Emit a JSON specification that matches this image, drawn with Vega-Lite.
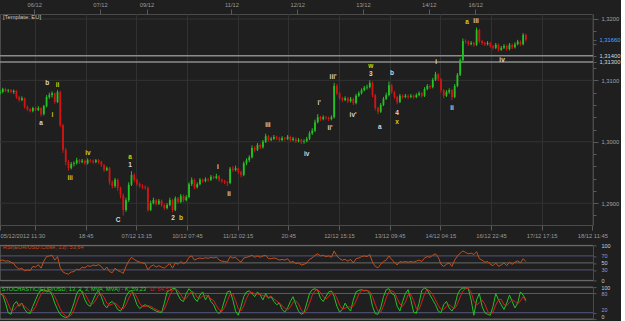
{
"$schema": "https://vega.github.io/schema/vega-lite/v6.json",
"background": "#1f1f1f",
"padding": {"top": 0, "left": -3, "right": 0, "bottom": 0},
"bounds": "flush",
"spacing": 6.7,
"config": {
  "view": {"stroke": "#4a4a4a", "strokeWidth": 1},
  "axis": {"labelFont": "Liberation Sans", "labelFontSize": 5.8, "labelColor": "#9a9a9a", "tickColor": "#5a5a5a", "domainColor": "#4a4a4a"},
  "text": {"font": "Liberation Sans"}
},
"datasets": {
"bars": [
{"t":0,"o":1.3079,"h":1.3084,"l":1.3077,"c":1.3081,"r":57,"k":80,"d":82},
{"t":1,"o":1.3081,"h":1.3088,"l":1.3079,"c":1.3086,"r":58,"k":75,"d":78},
{"t":2,"o":1.3086,"h":1.3088,"l":1.3081,"c":1.3083,"r":55,"k":50,"d":68},
{"t":3,"o":1.3083,"h":1.3086,"l":1.3080,"c":1.3084,"r":56,"k":20,"d":48},
{"t":4,"o":1.3084,"h":1.3086,"l":1.3079,"c":1.3081,"r":52,"k":15,"d":28},
{"t":5,"o":1.3081,"h":1.3085,"l":1.3078,"c":1.3083,"r":48,"k":45,"d":27},
{"t":6,"o":1.3083,"h":1.3084,"l":1.3070,"c":1.3073,"r":38,"k":55,"d":38},
{"t":7,"o":1.3073,"h":1.3075,"l":1.3065,"c":1.3068,"r":32,"k":40,"d":47},
{"t":8,"o":1.3068,"h":1.3074,"l":1.3066,"c":1.3071,"r":35,"k":50,"d":48},
{"t":9,"o":1.3071,"h":1.3072,"l":1.3054,"c":1.3057,"r":27,"k":30,"d":40},
{"t":10,"o":1.3057,"h":1.3059,"l":1.3050,"c":1.3053,"r":30,"k":20,"d":33},
{"t":11,"o":1.3053,"h":1.3055,"l":1.3048,"c":1.3050,"r":28,"k":18,"d":23},
{"t":12,"o":1.3050,"h":1.3057,"l":1.3048,"c":1.3055,"r":40,"k":40,"d":26},
{"t":13,"o":1.3055,"h":1.3057,"l":1.3050,"c":1.3052,"r":38,"k":60,"d":39},
{"t":14,"o":1.3052,"h":1.3058,"l":1.3050,"c":1.3055,"r":45,"k":80,"d":60},
{"t":15,"o":1.3055,"h":1.3056,"l":1.3041,"c":1.3045,"r":35,"k":90,"d":77},
{"t":16,"o":1.3045,"h":1.3060,"l":1.3043,"c":1.3058,"r":55,"k":92,"d":87},
{"t":17,"o":1.3058,"h":1.3076,"l":1.3056,"c":1.3073,"r":68,"k":85,"d":89},
{"t":18,"o":1.3073,"h":1.3080,"l":1.3070,"c":1.3076,"r":70,"k":88,"d":88},
{"t":19,"o":1.3076,"h":1.3082,"l":1.3072,"c":1.3079,"r":72,"k":75,"d":83},
{"t":20,"o":1.3079,"h":1.3080,"l":1.3062,"c":1.3065,"r":58,"k":50,"d":71},
{"t":21,"o":1.3065,"h":1.3084,"l":1.3063,"c":1.3081,"r":68,"k":30,"d":52},
{"t":22,"o":1.3081,"h":1.3083,"l":1.3024,"c":1.3027,"r":36,"k":15,"d":32},
{"t":23,"o":1.3027,"h":1.3029,"l":1.2982,"c":1.2987,"r":24,"k":8,"d":18},
{"t":24,"o":1.2987,"h":1.2990,"l":1.2962,"c":1.2967,"r":20,"k":5,"d":9},
{"t":25,"o":1.2967,"h":1.2970,"l":1.2953,"c":1.2957,"r":18,"k":8,"d":7},
{"t":26,"o":1.2957,"h":1.2967,"l":1.2955,"c":1.2964,"r":24,"k":25,"d":13},
{"t":27,"o":1.2964,"h":1.2968,"l":1.2960,"c":1.2965,"r":25,"k":50,"d":28},
{"t":28,"o":1.2965,"h":1.2974,"l":1.2963,"c":1.2970,"r":32,"k":80,"d":52},
{"t":29,"o":1.2970,"h":1.2972,"l":1.2964,"c":1.2967,"r":30,"k":92,"d":74},
{"t":30,"o":1.2967,"h":1.2972,"l":1.2965,"c":1.2969,"r":38,"k":85,"d":86},
{"t":31,"o":1.2969,"h":1.2971,"l":1.2962,"c":1.2965,"r":36,"k":60,"d":79},
{"t":32,"o":1.2965,"h":1.2973,"l":1.2963,"c":1.2970,"r":42,"k":45,"d":63},
{"t":33,"o":1.2970,"h":1.2972,"l":1.2966,"c":1.2969,"r":40,"k":40,"d":48},
{"t":34,"o":1.2969,"h":1.2971,"l":1.2964,"c":1.2967,"r":44,"k":60,"d":48},
{"t":35,"o":1.2967,"h":1.2972,"l":1.2965,"c":1.2970,"r":42,"k":80,"d":60},
{"t":36,"o":1.2970,"h":1.2972,"l":1.2964,"c":1.2967,"r":45,"k":88,"d":76},
{"t":37,"o":1.2967,"h":1.2969,"l":1.2959,"c":1.2962,"r":40,"k":70,"d":79},
{"t":38,"o":1.2962,"h":1.2964,"l":1.2951,"c":1.2954,"r":30,"k":45,"d":68},
{"t":39,"o":1.2954,"h":1.2960,"l":1.2952,"c":1.2957,"r":38,"k":35,"d":50},
{"t":40,"o":1.2957,"h":1.2959,"l":1.2930,"c":1.2934,"r":25,"k":50,"d":43},
{"t":41,"o":1.2934,"h":1.2937,"l":1.2924,"c":1.2928,"r":22,"k":55,"d":47},
{"t":42,"o":1.2928,"h":1.2941,"l":1.2925,"c":1.2938,"r":35,"k":45,"d":50},
{"t":43,"o":1.2938,"h":1.2940,"l":1.2920,"c":1.2925,"r":28,"k":30,"d":43},
{"t":44,"o":1.2925,"h":1.2927,"l":1.2908,"c":1.2913,"r":25,"k":25,"d":33},
{"t":45,"o":1.2913,"h":1.2916,"l":1.2880,"c":1.2889,"r":20,"k":40,"d":32},
{"t":46,"o":1.2889,"h":1.2909,"l":1.2886,"c":1.2905,"r":40,"k":70,"d":45},
{"t":47,"o":1.2905,"h":1.2934,"l":1.2902,"c":1.2930,"r":55,"k":85,"d":65},
{"t":48,"o":1.2930,"h":1.2952,"l":1.2928,"c":1.2946,"r":66,"k":90,"d":82},
{"t":49,"o":1.2946,"h":1.2949,"l":1.2934,"c":1.2938,"r":60,"k":70,"d":82},
{"t":50,"o":1.2938,"h":1.2940,"l":1.2928,"c":1.2931,"r":55,"k":45,"d":68},
{"t":51,"o":1.2931,"h":1.2934,"l":1.2925,"c":1.2928,"r":52,"k":33,"d":49},
{"t":52,"o":1.2928,"h":1.2931,"l":1.2923,"c":1.2926,"r":50,"k":40,"d":39},
{"t":53,"o":1.2926,"h":1.2929,"l":1.2922,"c":1.2925,"r":48,"k":45,"d":39},
{"t":54,"o":1.2925,"h":1.2927,"l":1.2886,"c":1.2889,"r":30,"k":40,"d":42},
{"t":55,"o":1.2889,"h":1.2904,"l":1.2887,"c":1.2900,"r":40,"k":35,"d":40},
{"t":56,"o":1.2900,"h":1.2909,"l":1.2898,"c":1.2905,"r":44,"k":30,"d":35},
{"t":57,"o":1.2905,"h":1.2907,"l":1.2896,"c":1.2899,"r":38,"k":25,"d":30},
{"t":58,"o":1.2899,"h":1.2907,"l":1.2897,"c":1.2904,"r":42,"k":22,"d":26},
{"t":59,"o":1.2904,"h":1.2906,"l":1.2894,"c":1.2897,"r":38,"k":20,"d":22},
{"t":60,"o":1.2897,"h":1.2899,"l":1.2889,"c":1.2892,"r":35,"k":50,"d":31},
{"t":61,"o":1.2892,"h":1.2900,"l":1.2890,"c":1.2897,"r":42,"k":85,"d":52},
{"t":62,"o":1.2897,"h":1.2909,"l":1.2895,"c":1.2905,"r":48,"k":90,"d":75},
{"t":63,"o":1.2905,"h":1.2907,"l":1.2885,"c":1.2889,"r":35,"k":95,"d":90},
{"t":64,"o":1.2889,"h":1.2911,"l":1.2887,"c":1.2908,"r":50,"k":96,"d":94},
{"t":65,"o":1.2908,"h":1.2910,"l":1.2899,"c":1.2902,"r":46,"k":75,"d":89},
{"t":66,"o":1.2902,"h":1.2915,"l":1.2900,"c":1.2912,"r":54,"k":60,"d":77},
{"t":67,"o":1.2912,"h":1.2914,"l":1.2902,"c":1.2905,"r":48,"k":55,"d":63},
{"t":68,"o":1.2905,"h":1.2913,"l":1.2903,"c":1.2910,"r":52,"k":80,"d":65},
{"t":69,"o":1.2910,"h":1.2934,"l":1.2908,"c":1.2931,"r":66,"k":95,"d":77},
{"t":70,"o":1.2931,"h":1.2942,"l":1.2928,"c":1.2938,"r":70,"k":85,"d":87},
{"t":71,"o":1.2938,"h":1.2940,"l":1.2923,"c":1.2926,"r":58,"k":65,"d":82},
{"t":72,"o":1.2926,"h":1.2934,"l":1.2924,"c":1.2931,"r":62,"k":55,"d":68},
{"t":73,"o":1.2931,"h":1.2941,"l":1.2929,"c":1.2938,"r":64,"k":75,"d":65},
{"t":74,"o":1.2938,"h":1.2940,"l":1.2933,"c":1.2936,"r":62,"k":85,"d":72},
{"t":75,"o":1.2936,"h":1.2942,"l":1.2934,"c":1.2939,"r":65,"k":60,"d":73},
{"t":76,"o":1.2939,"h":1.2941,"l":1.2935,"c":1.2938,"r":63,"k":75,"d":73},
{"t":77,"o":1.2938,"h":1.2946,"l":1.2936,"c":1.2943,"r":66,"k":55,"d":63},
{"t":78,"o":1.2943,"h":1.2945,"l":1.2939,"c":1.2941,"r":64,"k":45,"d":58},
{"t":79,"o":1.2941,"h":1.2948,"l":1.2939,"c":1.2944,"r":67,"k":25,"d":42},
{"t":80,"o":1.2944,"h":1.2946,"l":1.2935,"c":1.2938,"r":58,"k":17,"d":29},
{"t":81,"o":1.2938,"h":1.2940,"l":1.2933,"c":1.2936,"r":55,"k":30,"d":24},
{"t":82,"o":1.2936,"h":1.2938,"l":1.2931,"c":1.2934,"r":54,"k":60,"d":36},
{"t":83,"o":1.2934,"h":1.2936,"l":1.2928,"c":1.2933,"r":52,"k":85,"d":58},
{"t":84,"o":1.2933,"h":1.2959,"l":1.2931,"c":1.2956,"r":68,"k":88,"d":78},
{"t":85,"o":1.2956,"h":1.2960,"l":1.2951,"c":1.2954,"r":64,"k":60,"d":78},
{"t":86,"o":1.2954,"h":1.2961,"l":1.2952,"c":1.2957,"r":66,"k":25,"d":58},
{"t":87,"o":1.2957,"h":1.2958,"l":1.2948,"c":1.2951,"r":58,"k":12,"d":32},
{"t":88,"o":1.2951,"h":1.2953,"l":1.2942,"c":1.2946,"r":52,"k":40,"d":26},
{"t":89,"o":1.2946,"h":1.2968,"l":1.2944,"c":1.2965,"r":64,"k":70,"d":41},
{"t":90,"o":1.2965,"h":1.2973,"l":1.2962,"c":1.2970,"r":66,"k":85,"d":65},
{"t":91,"o":1.2970,"h":1.2978,"l":1.2967,"c":1.2975,"r":68,"k":88,"d":81},
{"t":92,"o":1.2975,"h":1.2994,"l":1.2973,"c":1.2990,"r":72,"k":80,"d":84},
{"t":93,"o":1.2990,"h":1.2993,"l":1.2983,"c":1.2987,"r":66,"k":70,"d":79},
{"t":94,"o":1.2987,"h":1.2998,"l":1.2985,"c":1.2995,"r":70,"k":85,"d":78},
{"t":95,"o":1.2995,"h":1.2997,"l":1.2988,"c":1.2991,"r":66,"k":75,"d":77},
{"t":96,"o":1.2991,"h":1.3003,"l":1.2989,"c":1.3000,"r":70,"k":60,"d":73},
{"t":97,"o":1.3000,"h":1.3013,"l":1.2998,"c":1.3009,"r":72,"k":80,"d":72},
{"t":98,"o":1.3009,"h":1.3011,"l":1.3000,"c":1.3003,"r":62,"k":65,"d":68},
{"t":99,"o":1.3003,"h":1.3008,"l":1.3001,"c":1.3005,"r":62,"k":70,"d":72},
{"t":100,"o":1.3005,"h":1.3011,"l":1.3003,"c":1.3008,"r":64,"k":55,"d":63},
{"t":101,"o":1.3008,"h":1.3010,"l":1.3003,"c":1.3006,"r":62,"k":45,"d":57},
{"t":102,"o":1.3006,"h":1.3008,"l":1.3000,"c":1.3003,"r":58,"k":50,"d":50},
{"t":103,"o":1.3003,"h":1.3009,"l":1.3001,"c":1.3006,"r":60,"k":30,"d":42},
{"t":104,"o":1.3006,"h":1.3008,"l":1.3002,"c":1.3005,"r":58,"k":22,"d":34},
{"t":105,"o":1.3005,"h":1.3011,"l":1.3003,"c":1.3008,"r":62,"k":35,"d":29},
{"t":106,"o":1.3008,"h":1.3010,"l":1.3000,"c":1.3003,"r":52,"k":55,"d":37},
{"t":107,"o":1.3003,"h":1.3008,"l":1.3001,"c":1.3005,"r":54,"k":70,"d":53},
{"t":108,"o":1.3005,"h":1.3007,"l":1.2998,"c":1.3001,"r":48,"k":45,"d":57},
{"t":109,"o":1.3001,"h":1.3006,"l":1.2999,"c":1.3003,"r":50,"k":25,"d":47},
{"t":110,"o":1.3003,"h":1.3005,"l":1.2996,"c":1.3000,"r":44,"k":15,"d":28},
{"t":111,"o":1.3000,"h":1.3004,"l":1.2997,"c":1.3001,"r":46,"k":20,"d":20},
{"t":112,"o":1.3001,"h":1.3008,"l":1.2999,"c":1.3005,"r":50,"k":50,"d":28},
{"t":113,"o":1.3005,"h":1.3017,"l":1.3003,"c":1.3014,"r":60,"k":80,"d":50},
{"t":114,"o":1.3014,"h":1.3022,"l":1.3011,"c":1.3018,"r":64,"k":92,"d":74},
{"t":115,"o":1.3018,"h":1.3036,"l":1.3016,"c":1.3032,"r":72,"k":95,"d":89},
{"t":116,"o":1.3032,"h":1.3045,"l":1.3030,"c":1.3040,"r":76,"k":90,"d":92},
{"t":117,"o":1.3040,"h":1.3042,"l":1.3034,"c":1.3037,"r":70,"k":65,"d":83},
{"t":118,"o":1.3037,"h":1.3043,"l":1.3035,"c":1.3040,"r":72,"k":55,"d":70},
{"t":119,"o":1.3040,"h":1.3042,"l":1.3036,"c":1.3039,"r":68,"k":70,"d":63},
{"t":120,"o":1.3039,"h":1.3041,"l":1.3034,"c":1.3037,"r":70,"k":85,"d":70},
{"t":121,"o":1.3037,"h":1.3043,"l":1.3035,"c":1.3040,"r":66,"k":88,"d":81},
{"t":122,"o":1.3040,"h":1.3096,"l":1.3038,"c":1.3091,"r":84,"k":70,"d":81},
{"t":123,"o":1.3091,"h":1.3094,"l":1.3076,"c":1.3079,"r":70,"k":40,"d":66},
{"t":124,"o":1.3079,"h":1.3081,"l":1.3068,"c":1.3071,"r":62,"k":22,"d":44},
{"t":125,"o":1.3071,"h":1.3073,"l":1.3065,"c":1.3068,"r":58,"k":30,"d":31},
{"t":126,"o":1.3068,"h":1.3074,"l":1.3066,"c":1.3071,"r":60,"k":50,"d":34},
{"t":127,"o":1.3071,"h":1.3073,"l":1.3063,"c":1.3066,"r":55,"k":35,"d":38},
{"t":128,"o":1.3066,"h":1.3073,"l":1.3064,"c":1.3070,"r":60,"k":25,"d":37},
{"t":129,"o":1.3070,"h":1.3072,"l":1.3060,"c":1.3063,"r":50,"k":60,"d":40},
{"t":130,"o":1.3063,"h":1.3078,"l":1.3061,"c":1.3075,"r":62,"k":85,"d":57},
{"t":131,"o":1.3075,"h":1.3082,"l":1.3073,"c":1.3079,"r":64,"k":90,"d":78},
{"t":132,"o":1.3079,"h":1.3087,"l":1.3077,"c":1.3084,"r":68,"k":92,"d":89},
{"t":133,"o":1.3084,"h":1.3091,"l":1.3082,"c":1.3088,"r":70,"k":88,"d":90},
{"t":134,"o":1.3088,"h":1.3093,"l":1.3085,"c":1.3089,"r":68,"k":90,"d":90},
{"t":135,"o":1.3089,"h":1.3100,"l":1.3087,"c":1.3096,"r":74,"k":80,"d":86},
{"t":136,"o":1.3096,"h":1.3098,"l":1.3073,"c":1.3076,"r":52,"k":40,"d":70},
{"t":137,"o":1.3076,"h":1.3078,"l":1.3051,"c":1.3055,"r":40,"k":17,"d":46},
{"t":138,"o":1.3055,"h":1.3057,"l":1.3045,"c":1.3049,"r":36,"k":15,"d":24},
{"t":139,"o":1.3049,"h":1.3063,"l":1.3047,"c":1.3060,"r":46,"k":35,"d":22},
{"t":140,"o":1.3060,"h":1.3073,"l":1.3058,"c":1.3070,"r":54,"k":70,"d":40},
{"t":141,"o":1.3070,"h":1.3080,"l":1.3068,"c":1.3076,"r":58,"k":92,"d":66},
{"t":142,"o":1.3076,"h":1.3098,"l":1.3074,"c":1.3092,"r":70,"k":95,"d":86},
{"t":143,"o":1.3092,"h":1.3094,"l":1.3078,"c":1.3081,"r":60,"k":80,"d":89},
{"t":144,"o":1.3081,"h":1.3083,"l":1.3070,"c":1.3073,"r":52,"k":75,"d":83},
{"t":145,"o":1.3073,"h":1.3075,"l":1.3061,"c":1.3065,"r":44,"k":40,"d":65},
{"t":146,"o":1.3065,"h":1.3078,"l":1.3063,"c":1.3075,"r":54,"k":25,"d":47},
{"t":147,"o":1.3075,"h":1.3077,"l":1.3070,"c":1.3073,"r":52,"k":55,"d":40},
{"t":148,"o":1.3073,"h":1.3078,"l":1.3071,"c":1.3075,"r":54,"k":80,"d":53},
{"t":149,"o":1.3075,"h":1.3077,"l":1.3070,"c":1.3073,"r":52,"k":92,"d":76},
{"t":150,"o":1.3073,"h":1.3078,"l":1.3071,"c":1.3075,"r":54,"k":60,"d":77},
{"t":151,"o":1.3075,"h":1.3077,"l":1.3070,"c":1.3073,"r":52,"k":22,"d":58},
{"t":152,"o":1.3073,"h":1.3079,"l":1.3071,"c":1.3076,"r":55,"k":18,"d":33},
{"t":153,"o":1.3076,"h":1.3082,"l":1.3074,"c":1.3079,"r":58,"k":50,"d":30},
{"t":154,"o":1.3079,"h":1.3081,"l":1.3072,"c":1.3075,"r":54,"k":90,"d":53},
{"t":155,"o":1.3075,"h":1.3089,"l":1.3073,"c":1.3086,"r":64,"k":97,"d":79},
{"t":156,"o":1.3086,"h":1.3094,"l":1.3084,"c":1.3091,"r":68,"k":92,"d":93},
{"t":157,"o":1.3091,"h":1.3093,"l":1.3086,"c":1.3089,"r":66,"k":75,"d":88},
{"t":158,"o":1.3089,"h":1.3104,"l":1.3087,"c":1.3101,"r":72,"k":60,"d":76},
{"t":159,"o":1.3101,"h":1.3114,"l":1.3099,"c":1.3110,"r":76,"k":45,"d":60},
{"t":160,"o":1.3110,"h":1.3112,"l":1.3099,"c":1.3102,"r":66,"k":25,"d":43},
{"t":161,"o":1.3102,"h":1.3104,"l":1.3080,"c":1.3084,"r":46,"k":20,"d":30},
{"t":162,"o":1.3084,"h":1.3086,"l":1.3071,"c":1.3075,"r":40,"k":45,"d":30},
{"t":163,"o":1.3075,"h":1.3084,"l":1.3073,"c":1.3081,"r":46,"k":55,"d":40},
{"t":164,"o":1.3081,"h":1.3087,"l":1.3078,"c":1.3084,"r":50,"k":35,"d":45},
{"t":165,"o":1.3084,"h":1.3086,"l":1.3068,"c":1.3073,"r":40,"k":25,"d":38},
{"t":166,"o":1.3073,"h":1.3094,"l":1.3071,"c":1.3091,"r":58,"k":40,"d":33},
{"t":167,"o":1.3091,"h":1.3112,"l":1.3089,"c":1.3109,"r":70,"k":75,"d":47},
{"t":168,"o":1.3109,"h":1.3136,"l":1.3107,"c":1.3133,"r":78,"k":92,"d":69},
{"t":169,"o":1.3133,"h":1.3168,"l":1.3131,"c":1.3164,"r":84,"k":97,"d":88},
{"t":170,"o":1.3164,"h":1.3167,"l":1.3160,"c":1.3163,"r":80,"k":97,"d":95},
{"t":171,"o":1.3163,"h":1.3165,"l":1.3156,"c":1.3159,"r":76,"k":95,"d":96},
{"t":172,"o":1.3159,"h":1.3164,"l":1.3157,"c":1.3161,"r":78,"k":60,"d":84},
{"t":173,"o":1.3161,"h":1.3163,"l":1.3155,"c":1.3158,"r":74,"k":12,"d":56},
{"t":174,"o":1.3158,"h":1.3186,"l":1.3156,"c":1.3182,"r":82,"k":60,"d":44},
{"t":175,"o":1.3182,"h":1.3184,"l":1.3161,"c":1.3164,"r":62,"k":80,"d":51},
{"t":176,"o":1.3164,"h":1.3166,"l":1.3158,"c":1.3161,"r":58,"k":40,"d":60},
{"t":177,"o":1.3161,"h":1.3163,"l":1.3156,"c":1.3159,"r":52,"k":20,"d":47},
{"t":178,"o":1.3159,"h":1.3164,"l":1.3157,"c":1.3161,"r":54,"k":15,"d":25},
{"t":179,"o":1.3161,"h":1.3163,"l":1.3153,"c":1.3156,"r":46,"k":12,"d":16},
{"t":180,"o":1.3156,"h":1.3158,"l":1.3150,"c":1.3153,"r":42,"k":40,"d":22},
{"t":181,"o":1.3153,"h":1.3161,"l":1.3151,"c":1.3158,"r":50,"k":80,"d":44},
{"t":182,"o":1.3158,"h":1.3160,"l":1.3147,"c":1.3150,"r":40,"k":60,"d":60},
{"t":183,"o":1.3150,"h":1.3156,"l":1.3148,"c":1.3153,"r":44,"k":45,"d":62},
{"t":184,"o":1.3153,"h":1.3159,"l":1.3151,"c":1.3156,"r":50,"k":30,"d":45},
{"t":185,"o":1.3156,"h":1.3158,"l":1.3148,"c":1.3151,"r":42,"k":50,"d":42},
{"t":186,"o":1.3151,"h":1.3161,"l":1.3149,"c":1.3158,"r":52,"k":75,"d":52},
{"t":187,"o":1.3158,"h":1.3160,"l":1.3151,"c":1.3154,"r":46,"k":55,"d":60},
{"t":188,"o":1.3154,"h":1.3162,"l":1.3152,"c":1.3159,"r":52,"k":35,"d":55},
{"t":189,"o":1.3159,"h":1.3166,"l":1.3157,"c":1.3163,"r":56,"k":50,"d":47},
{"t":190,"o":1.3163,"h":1.3165,"l":1.3156,"c":1.3159,"r":50,"k":85,"d":57},
{"t":191,"o":1.3159,"h":1.3177,"l":1.3157,"c":1.3174,"r":62,"k":75,"d":70},
{"t":192,"o":1.3174,"h":1.3176,"l":1.3163,"c":1.3166,"r":54,"k":59,"d":55}
],
"waves": [
{"t":17.2,"p":1.3096,"s":"b","deg":"minor"},
{"t":21.0,"p":1.3092,"s":"ii","deg":"minute"},
{"t":15.0,"p":1.3030,"s":"a","deg":"minor"},
{"t":19.1,"p":1.3044,"s":"i","deg":"minute"},
{"t":25.6,"p":1.2941,"s":"iii","deg":"minute"},
{"t":32.1,"p":1.2982,"s":"iv","deg":"minute"},
{"t":43.1,"p":1.2873,"s":"C","deg":"minor"},
{"t":47.5,"p":1.2975,"s":"a","deg":"minute"},
{"t":47.5,"p":1.2962,"s":"1","deg":"minor"},
{"t":63.2,"p":1.2876,"s":"2","deg":"minor"},
{"t":66.1,"p":1.2876,"s":"b","deg":"minute"},
{"t":79.6,"p":1.2959,"s":"i","deg":"minor"},
{"t":83.6,"p":1.2915,"s":"ii","deg":"minor"},
{"t":97.8,"p":1.3027,"s":"iii","deg":"minor"},
{"t":112.0,"p":1.2980,"s":"iv","deg":"minor"},
{"t":116.5,"p":1.3063,"s":"i'","deg":"minor"},
{"t":120.5,"p":1.3022,"s":"ii'","deg":"minor"},
{"t":121.6,"p":1.3106,"s":"iii'","deg":"minor"},
{"t":128.9,"p":1.3044,"s":"iv'","deg":"minor"},
{"t":135.4,"p":1.3123,"s":"w","deg":"minute"},
{"t":135.4,"p":1.3110,"s":"3","deg":"minor"},
{"t":138.7,"p":1.3024,"s":"a","deg":"minor"},
{"t":143.1,"p":1.3112,"s":"b","deg":"minor"},
{"t":145.0,"p":1.3047,"s":"4","deg":"minor"},
{"t":145.0,"p":1.3032,"s":"x","deg":"minute"},
{"t":159.2,"p":1.3130,"s":"i","deg":"minor"},
{"t":165.0,"p":1.3055,"s":"ii","deg":"minor"},
{"t":170.5,"p":1.3195,"s":"a","deg":"minute"},
{"t":173.8,"p":1.3197,"s":"iii","deg":"minor"},
{"t":183.3,"p":1.3133,"s":"iv","deg":"minor"}
]
},
"vconcat": [
{
  "width": 593, "height": 211,
  "layer": [
    {"data": {"values": [{"p":1.29},{"p":1.30},{"p":1.31},{"p":1.32}]},
     "mark": {"type": "rule", "color": "#333333", "strokeWidth": 1},
     "encoding": {"y": {"field": "p", "type": "quantitative", "scale": {"domain": [1.28645, 1.32081], "nice": false, "zero": false}, "axis": null}}},
    {"data": {"values": [{"p":1.314},{"p":1.313}]},
     "mark": {"type": "rule", "color": "#8c8c8c", "strokeWidth": 1.5},
     "encoding": {"y": {"field": "p", "type": "quantitative", "axis": null}}},
    {"data": {"name": "bars"},
     "mark": {"type": "rule", "strokeWidth": 1},
     "encoding": {
       "x": {"field": "t", "type": "quantitative", "scale": {"domain": [0, 216.5], "nice": false, "zero": false},
         "axis": {"orient": "bottom", "title": null,
           "values": [0,12.75,31.25,49.75,68.25,86.75,105.25,123.75,142.25,160.75,179.25,197.75,216.25],
           "labelExpr": "datum.value==0?'05/12/2012 11:30':datum.value==31.25?'18:45':datum.value==49.75?'07/12 13:15':datum.value==68.25?'10/12 07:45':datum.value==86.75?'11/12 02:15':datum.value==105.25?'20:45':datum.value==123.75?'12/12 15:15':datum.value==142.25?'13/12 09:45':datum.value==160.75?'14/12 04:15':datum.value==179.25?'16/12 22:45':datum.value==197.75?'17/12 17:15':datum.value==216.25?'18/12 11:45':''",
           "labelAlign": {"condition": {"test": "datum.value==0", "value": "left"}, "value": "center"},
           "grid": true, "gridColor": "#313131",
           "gridOpacity": {"condition": {"test": "datum.value==0", "value": 0}, "value": 1},
           "tickSize": 5, "labelPadding": 2, "labelOverlap": false, "labelFlush": false, "domain": false}},
       "y": {"field": "l", "type": "quantitative",
         "axis": {"orient": "right", "title": null, "grid": false, "domain": false,
           "values": [1.288,1.29,1.292,1.294,1.296,1.298,1.30,1.302,1.304,1.306,1.308,1.31,1.312,1.313,1.314,1.316,1.3166,1.318,1.32],
           "labelExpr": "datum.value==1.3166?'1,31660':datum.value==1.314?'1,31400':datum.value==1.313?'1,31300':abs(datum.value*100-round(datum.value*100))<0.001?replace(format(datum.value,'.4f'),'.',','):''",
           "labelColor": {"condition": [{"test": "datum.value==1.3166", "value": "#4aa8ff"}, {"test": "datum.value==1.314||datum.value==1.313", "value": "#d8d8d8"}], "value": "#a0a0a0"},
           "tickSize": {"condition": {"test": "abs(datum.value*100-round(datum.value*100))<0.001", "value": 5}, "value": 3},
           "labelPadding": 3, "labelOverlap": false}},
       "y2": {"field": "h"},
       "color": {"condition": {"test": "datum.c>=datum.o", "value": "#22c322"}, "value": "#d41414"}
     }},
    {"data": {"name": "bars"},
     "mark": {"type": "rule", "strokeWidth": 1.8},
     "encoding": {
       "x": {"field": "t", "type": "quantitative",
         "axis": {"orient": "top", "title": null, "grid": false, "domain": false,
           "values": [12.5,36.5,53.5,84.5,108.5,132.5,156.5,173.5],
           "labelExpr": "datum.value==12.5?'06/12':datum.value==36.5?'07/12':datum.value==53.5?'09/12':datum.value==84.5?'11/12':datum.value==108.5?'12/12':datum.value==132.5?'13/12':datum.value==156.5?'14/12':'16/12'",
           "tickSize": 5, "labelPadding": 2, "labelOverlap": false}},
       "y": {"field": "o", "type": "quantitative", "axis": null},
       "y2": {"field": "c"},
       "color": {"condition": {"test": "datum.c>=datum.o", "value": "#22c322"}, "value": "#d41414"}
     }},
    {"data": {"name": "waves"},
     "mark": {"type": "text", "fontSize": 6.5, "fontWeight": "bold"},
     "encoding": {
       "x": {"field": "t", "type": "quantitative", "axis": null},
       "y": {"field": "p", "type": "quantitative", "axis": null},
       "text": {"field": "s"},
       "color": {"field": "deg", "type": "nominal", "scale": {"domain": ["minor", "minute"], "range": ["#d6d6d6", "#d2d200"]}, "legend": null}
     }},
    {"data": {"values": [{"t": 1.1, "p": 1.3203, "s": "[Template: EU]"}]},
     "mark": {"type": "text", "align": "left", "baseline": "middle", "fontSize": 5.8, "color": "#c8c8c8"},
     "encoding": {
       "x": {"field": "t", "type": "quantitative", "axis": null},
       "y": {"field": "p", "type": "quantitative", "axis": null},
       "text": {"field": "s"}
     }}
  ],
  "resolve": {"axis": {"x": "independent", "y": "independent"}}
},
{
  "width": 593, "height": 6.6,
  "view": {"stroke": null},
  "data": {"values": [{"a": 0}]},
  "mark": {"type": "rule", "opacity": 0},
  "encoding": {}
},
{
  "width": 593, "height": 35,
  "layer": [
    {"data": {"values": [{"v": 100}, {"v": 0}]},
     "mark": {"type": "rule", "color": "#6e6e6e"},
     "encoding": {"y": {"field": "v", "type": "quantitative", "scale": {"domain": [0, 100], "nice": false}, "axis": null}}},
    {"data": {"values": [{"v": 70}, {"v": 30}]},
     "mark": {"type": "rule", "color": "#55557e"},
     "encoding": {"y": {"field": "v", "type": "quantitative", "axis": null}}},
    {"data": {"values": [{"v": 50}]},
     "mark": {"type": "rule", "color": "#6a6a6a"},
     "encoding": {"y": {"field": "v", "type": "quantitative", "axis": null}}},
    {"data": {"name": "bars"},
     "mark": {"type": "line", "color": "#c2501e", "strokeWidth": 1},
     "encoding": {
       "x": {"field": "t", "type": "quantitative", "scale": {"domain": [0, 216.5], "nice": false, "zero": false}, "axis": null},
       "y": {"field": "r", "type": "quantitative",
         "axis": {"orient": "right", "title": null, "grid": false, "domain": false, "values": [0, 30, 50, 70, 100],
           "tickSize": 3, "labelPadding": 5, "labelOverlap": false, "labelFontSize": 5.5,
           "labelColor": {"condition": {"test": "datum.value==70||datum.value==30", "value": "#9a9ad8"}, "value": "#d0d0d0"}}}
     }},
    {"data": {"values": [{"t": 1.1, "v": 95, "s": "RSI(EUR/USD.Close, 13): 53,64"}]},
     "mark": {"type": "text", "align": "left", "baseline": "middle", "fontSize": 5.6, "color": "#c84a1a"},
     "encoding": {
       "x": {"field": "t", "type": "quantitative", "axis": null},
       "y": {"field": "v", "type": "quantitative", "axis": null},
       "text": {"field": "s"}
     }}
  ],
  "resolve": {"axis": {"y": "independent"}}
},
{
  "width": 593, "height": 32,
  "layer": [
    {"data": {"values": [{"v": 100}, {"v": 0}]},
     "mark": {"type": "rule", "color": "#6e6e6e"},
     "encoding": {"y": {"field": "v", "type": "quantitative", "scale": {"domain": [0, 100], "nice": false}, "axis": null}}},
    {"data": {"values": [{"v": 80}, {"v": 20}]},
     "mark": {"type": "rule", "color": "#55557e"},
     "encoding": {"y": {"field": "v", "type": "quantitative", "axis": null}}},
    {"data": {"name": "bars"},
     "mark": {"type": "line", "color": "#22c322", "strokeWidth": 1},
     "encoding": {
       "x": {"field": "t", "type": "quantitative", "scale": {"domain": [0, 216.5], "nice": false, "zero": false}, "axis": null},
       "y": {"field": "k", "type": "quantitative",
         "axis": {"orient": "right", "title": null, "grid": false, "domain": false, "values": [0, 20, 80, 100],
           "tickSize": 3, "labelPadding": 5, "labelOverlap": false, "labelFontSize": 5.2,
           "labelBaseline": {"condition": {"test": "datum.value<=20", "value": "bottom"}, "value": "middle"},
           "labelColor": {"condition": {"test": "datum.value==80||datum.value==20", "value": "#9a9ad8"}, "value": "#d0d0d0"}}}
     }},
    {"data": {"name": "bars"},
     "mark": {"type": "line", "color": "#d42020", "strokeWidth": 1},
     "encoding": {
       "x": {"field": "t", "type": "quantitative", "axis": null},
       "y": {"field": "d", "type": "quantitative", "axis": null}
     }},
    {"data": {"values": [{"t": 0.6, "v": 95, "s": "STOCHASTIC(EUR/USD, 13, 3, 3, MVA, MVA) - K: 59,23"}]},
     "mark": {"type": "text", "align": "left", "baseline": "middle", "fontSize": 5.7, "color": "#2ed02e"},
     "encoding": {
       "x": {"field": "t", "type": "quantitative", "axis": null},
       "y": {"field": "v", "type": "quantitative", "axis": null},
       "text": {"field": "s"}
     }},
    {"data": {"values": [{"t": 54.8, "v": 95, "s": "D: 54,51"}]},
     "mark": {"type": "text", "align": "left", "baseline": "middle", "fontSize": 5.7, "color": "#d42020"},
     "encoding": {
       "x": {"field": "t", "type": "quantitative", "axis": null},
       "y": {"field": "v", "type": "quantitative", "axis": null},
       "text": {"field": "s"}
     }}
  ],
  "resolve": {"axis": {"y": "independent"}}
}
]
}
